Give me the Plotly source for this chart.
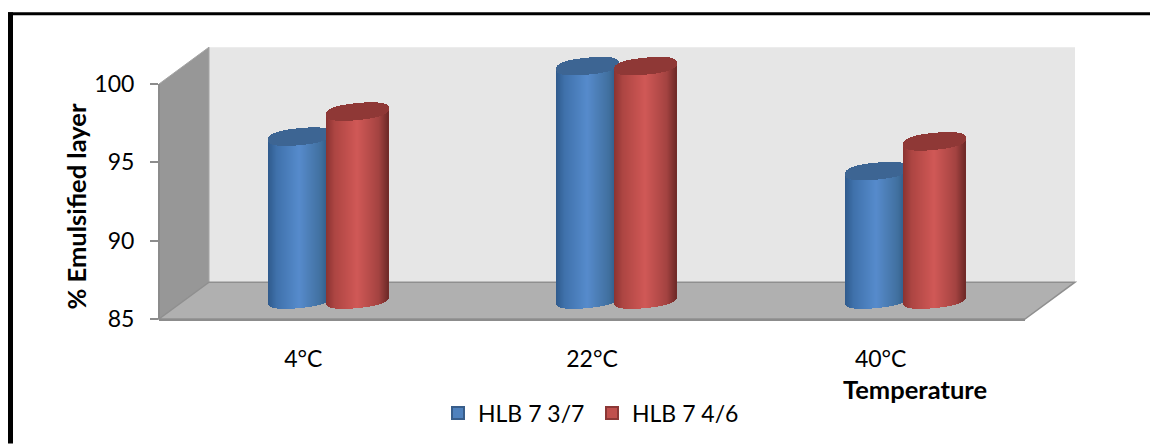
import numpy as np
import plotly.graph_objects as go

# Chart data
categories = ["4°C", "22°C", "40°C"]
series_names = ["HLB 7 3/7", "HLB 7 4/6"]
hlb_37 = [95.4, 99.9, 93.2]
hlb_46 = [97.0, 99.9, 95.1]
y_ticks = [85, 90, 95, 100]

# Canvas and plot-area geometry (pixels)
W, H = 1150, 445
PX_PER_VAL = 236 / 15
Y_MIN, Y_TOP, Y_MAX = 85, 100, 103   # axis is labelled to Y_TOP; extra headroom holds the 3D box
PLOT_L, PLOT_R, PLOT_B = 159, 1025, 320
PLOT_T = PLOT_B - (Y_MAX - Y_MIN) * PX_PER_VAL
X_MIN, X_MAX = -0.5, 2.5

px_per_cat = (PLOT_R - PLOT_L) / (X_MAX - X_MIN)


def cat_dx(px):
    return px / px_per_cat


def val_dy(px):
    return px / PX_PER_VAL


def paper_x(cat):
    return (cat - X_MIN) / (X_MAX - X_MIN)


def paper_y(val):
    return (val - Y_MIN) / (Y_MAX - Y_MIN)


def page_x(px):
    return paper_x(X_MIN + cat_dx(px - PLOT_L))


def page_y(px):
    return paper_y(Y_MIN + val_dy(PLOT_B - px))


# Pseudo-3D box: back wall is displaced by the chart depth
DEPTH_X, DEPTH_Y = cat_dx(50), val_dy(37)
# Cylinders stand half-way into the box
CYL_X, CYL_Y = cat_dx(25), val_dy(19.5)
CYL_SEP = cat_dx(29)      # centre offset of each series from the category centre
CYL_A = cat_dx(31)        # horizontal radius
CYL_B = val_dy(8.5)       # vertical radius of the end ellipses
CYL_TILT = val_dy(3)      # right end sits higher than the left end
CYL_ROUND = 2.5           # end-cap roundness (2 would be a plain ellipse)
N_STRIPS = 62

BLUE_STOPS = [(0, "#2f5a8c"), (0.14, "#3f71ab"), (0.5, "#568bcc"), (0.85, "#41709f"), (1, "#2c5481")]
RED_STOPS = [(0, "#8a3331"), (0.14, "#ad4542"), (0.5, "#d05856"), (0.85, "#a44341"), (1, "#6f2a28")]
BLUE_CAP, RED_CAP = "#3d6593", "#8f3836"


def hex_rgb(c):
    return np.array([int(c[i:i + 2], 16) for i in (1, 3, 5)], dtype=float)


def shade(stops, t):
    pos = [s[0] for s in stops]
    rgb = np.array([hex_rgb(s[1]) for s in stops])
    vals = [np.interp(t, pos, rgb[:, k]) for k in range(3)]
    return "rgb(%d,%d,%d)" % tuple(int(round(v)) for v in vals)


def cylinder_traces(values, side, stops, cap_color):
    """Body and cap of one series, drawn as narrow vertical bars."""
    bx, btop, bbase, bcol = [], [], [], []
    cx, ctop, cbase = [], [], []
    for i, v in enumerate(values):
        xc = i + CYL_X + side * CYL_SEP
        for k in range(N_STRIPS):
            u = (k + 0.5) / N_STRIPS * 2 - 1
            arc = CYL_B * (1 - abs(u) ** CYL_ROUND) ** (1 / CYL_ROUND)
            tilt = CYL_TILT * u
            low = Y_MIN + CYL_Y + tilt - arc
            mid = v + CYL_Y + tilt
            bx.append(xc + u * CYL_A)
            bbase.append(low)
            btop.append(mid - low)
            bcol.append(shade(stops, (u + 1) / 2))
            cx.append(xc + u * CYL_A)
            cbase.append(mid - arc)
            ctop.append(2 * arc)
    strip_w = 2 * CYL_A / N_STRIPS * 1.15
    common = dict(width=strip_w, cliponaxis=False, showlegend=False, hoverinfo="skip",
                  marker_line_width=0)
    return [
        go.Bar(x=bx, y=btop, base=bbase, marker_color=bcol, **common),
        go.Bar(x=cx, y=ctop, base=cbase, marker_color=cap_color, **common),
    ]


fig = go.Figure()
for tr in cylinder_traces(hlb_37, -1, BLUE_STOPS, BLUE_CAP):
    fig.add_trace(tr)
for tr in cylinder_traces(hlb_46, 1, RED_STOPS, RED_CAP):
    fig.add_trace(tr)

# Legend keys
for name, fill, edge in [(series_names[0], "#4f81bd", "#385d8a"), (series_names[1], "#c0504d", "#8c3836")]:
    fig.add_trace(go.Scatter(x=[None], y=[None], mode="markers", name=name,
                             marker=dict(symbol="square", size=16, color=fill,
                                         line=dict(color=edge, width=2))))


def poly(points, fill, line=None, width=0):
    path = "M " + " L ".join(f"{paper_x(a)},{paper_y(b)}" for a, b in points) + " Z"
    return dict(type="path", xref="paper", yref="paper", path=path, fillcolor=fill,
                line=dict(color=line or fill, width=width), layer="below")


x0, x1 = X_MIN, X_MAX
shapes = [
    # back wall
    poly([(x0 + DEPTH_X, Y_MIN + DEPTH_Y), (x1 + DEPTH_X, Y_MIN + DEPTH_Y),
          (x1 + DEPTH_X, Y_TOP + DEPTH_Y), (x0 + DEPTH_X, Y_TOP + DEPTH_Y)], "#e6e6e6"),
    # side wall
    poly([(x0, Y_MIN), (x0 + DEPTH_X, Y_MIN + DEPTH_Y),
          (x0 + DEPTH_X, Y_TOP + DEPTH_Y), (x0, Y_TOP)], "#979797", "#a4a4a4", 1),
    # floor
    poly([(x0, Y_MIN), (x1, Y_MIN), (x1 + DEPTH_X, Y_MIN + DEPTH_Y), (x0 + DEPTH_X, Y_MIN + DEPTH_Y)],
         "#b0b0b0", "#8f8f8f", 1.5),
    # value axis line, stopping at the last labelled tick
    dict(type="line", xref="paper", yref="paper", x0=0, x1=0, y0=paper_y(Y_MIN), y1=paper_y(Y_TOP),
         line=dict(color="#8c8c8c", width=2), layer="above"),
    # outer frame
    dict(type="rect", xref="paper", yref="paper",
         x0=page_x(8), x1=page_x(13), y0=page_y(H), y1=page_y(12),
         fillcolor="black", line_width=0, layer="above"),
    dict(type="rect", xref="paper", yref="paper",
         x0=page_x(8), x1=page_x(W), y0=page_y(15), y1=page_y(12),
         fillcolor="black", line_width=0, layer="above"),
]

FONT = "Lato"
fig.update_layout(
    width=W, height=H, autosize=False,
    margin=dict(l=PLOT_L, r=W - PLOT_R, t=PLOT_T, b=H - PLOT_B, pad=0),
    paper_bgcolor="white", plot_bgcolor="rgba(0,0,0,0)",
    font=dict(family=FONT, size=22, color="#000000"),
    barmode="overlay", bargap=0, hovermode=False,
    shapes=shapes,
    xaxis=dict(range=[X_MIN, X_MAX], tickmode="array", tickvals=[0, 1, 2], ticktext=categories,
               showgrid=False, zeroline=False, showline=True, linecolor="#8c8c8c", linewidth=2,
               ticks="", ticklabelstandoff=18, tickfont=dict(family=FONT, size=23)),
    yaxis=dict(range=[Y_MIN, Y_MAX], tickmode="array", tickvals=y_ticks, ticktext=[str(t) for t in y_ticks],
               showgrid=False, zeroline=False, showline=False,
               ticks="outside", ticklen=8, tickwidth=2, tickcolor="#8c8c8c",
               ticklabelstandoff=11, tickfont=dict(family=FONT, size=23)),
    legend=dict(orientation="h", x=page_x(438), y=page_y(413), xanchor="left", yanchor="middle",
                itemwidth=30, itemsizing="constant", entrywidth=109, entrywidthmode="pixels",
                bgcolor="rgba(0,0,0,0)", font=dict(family=FONT, size=23), traceorder="normal"),
    annotations=[
        dict(text="<b>Temperature</b>", xref="paper", yref="paper", showarrow=False,
             x=page_x(915), y=page_y(390),
             xanchor="center", yanchor="middle", font=dict(family=FONT, size=25.5)),
        dict(text="<b>% Emulsified layer</b>", xref="paper", yref="paper", showarrow=False, textangle=-90,
             x=page_x(76), y=page_y(207),
             xanchor="center", yanchor="middle", font=dict(family=FONT, size=25.5)),
    ],
)

fig.write_html("out.html")
